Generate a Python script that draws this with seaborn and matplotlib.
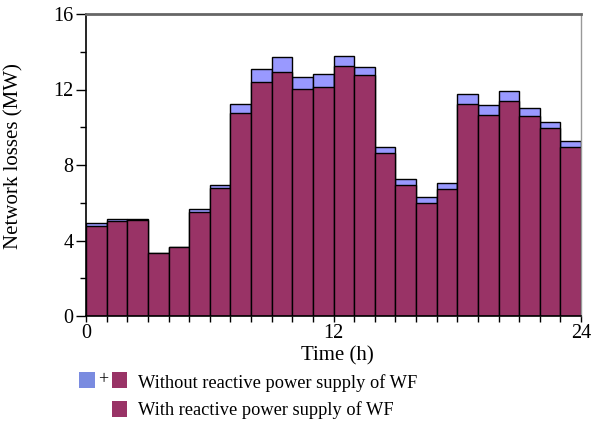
import numpy as np
import pandas as pd
import seaborn as sns
import matplotlib
matplotlib.use("Agg")
import matplotlib.pyplot as plt
from matplotlib.patches import Rectangle

hours = list(range(24))
without_wf = [4.94, 5.16, 5.16, 3.35, 3.67, 5.65, 6.92, 11.25, 13.07, 13.74, 12.64, 12.84,
              13.79, 13.19, 8.94, 7.24, 6.29, 7.03, 11.78, 11.16, 11.90, 11.04, 10.30, 9.29]
with_wf = [4.77, 5.03, 5.09, 3.32, 3.64, 5.51, 6.76, 10.78, 12.40, 12.95, 12.01, 12.13,
           13.26, 12.75, 8.64, 6.94, 5.99, 6.75, 11.23, 10.63, 11.37, 10.58, 9.94, 8.97]
y_ticks = [0, 4, 8, 12, 16]
x_ticks = [0, 12, 24]
legend_labels = ["Without reactive power supply of WF", "With reactive power supply of WF"]

BLUE = "#9999FF"
BLUE_LEG = "#7A8BE0"
PURPLE = "#993366"

sns.set_style("white")
plt.rcParams['font.family'] = ['Liberation Serif', 'DejaVu Serif']
plt.rcParams['text.color'] = 'black'
plt.rcParams['axes.labelcolor'] = 'black'
plt.rcParams['xtick.color'] = 'black'
plt.rcParams['ytick.color'] = 'black'

df = pd.DataFrame({"mid": [h + 0.5 for h in hours], "without": without_wf, "with": with_wf})

fig = plt.figure(figsize=(5.95, 4.25), dpi=100)
ax = fig.add_axes([86/595, 1 - 316/425, (581 - 86)/595, (316 - 14)/425])

sns.barplot(data=df, x="mid", y="without", native_scale=True, width=1.0, color=BLUE,
            saturation=1, edgecolor="black", linewidth=1.0, ax=ax)
sns.barplot(data=df, x="mid", y="with", native_scale=True, width=1.0, color=PURPLE,
            saturation=1, edgecolor="black", linewidth=1.0, ax=ax)

ax.set_xlim(0, 24)
ax.set_ylim(0, 16)
ax.set_xticks(x_ticks)
ax.set_xticks(range(25), minor=True)
ax.set_yticks(y_ticks)
ax.set_yticks(range(0, 17, 2), minor=True)
ax.tick_params(axis="both", which="both", direction="out", bottom=True, left=True,
               top=False, right=False, width=1, color="black", labelcolor="black")
ax.tick_params(axis="x", which="both", length=4)
ax.tick_params(axis="y", which="major", length=7)
ax.tick_params(axis="y", which="minor", length=4)
ax.tick_params(axis="both", which="major", labelsize=14.5, pad=2)

ax.set_xlabel("Time (h)", fontsize=15)
ax.set_ylabel("Network losses (MW)", fontsize=15)
ax.xaxis.label.set(va="center", ha="center")
ax.yaxis.label.set(va="center", ha="center")
ax.xaxis.set_label_coords((337 - 86) / 495, (316 - 355.5) / 302)
ax.yaxis.set_label_coords((14 - 86) / 495, (316 - 156) / 302)

for side in ["left", "bottom"]:
    ax.spines[side].set_color("black")
    ax.spines[side].set_linewidth(1.2)
ax.spines["top"].set_color("#666666")
ax.spines["top"].set_linewidth(2)
ax.spines["right"].set_color("#999999")
ax.spines["right"].set_linewidth(1)

def fx(px):
    return px / 595
def fy(py):
    return 1 - py / 425

fig.patches.append(Rectangle((fx(79), fy(388)), 16/595, 16/425, transform=fig.transFigure,
                             facecolor=BLUE_LEG, edgecolor="none"))
fig.text(fx(103), fy(380), "+", fontsize=13, ha="center", va="center")
fig.patches.append(Rectangle((fx(112), fy(388)), 15/595, 16/425, transform=fig.transFigure,
                             facecolor=PURPLE, edgecolor="none"))
fig.text(fx(138), fy(383), legend_labels[0], fontsize=13.2, ha="left", va="center")
fig.patches.append(Rectangle((fx(112), fy(417)), 15/595, 16/425, transform=fig.transFigure,
                             facecolor=PURPLE, edgecolor="none"))
fig.text(fx(138), fy(410), legend_labels[1], fontsize=13.2, ha="left", va="center")

fig.savefig("out.png", dpi=100)
